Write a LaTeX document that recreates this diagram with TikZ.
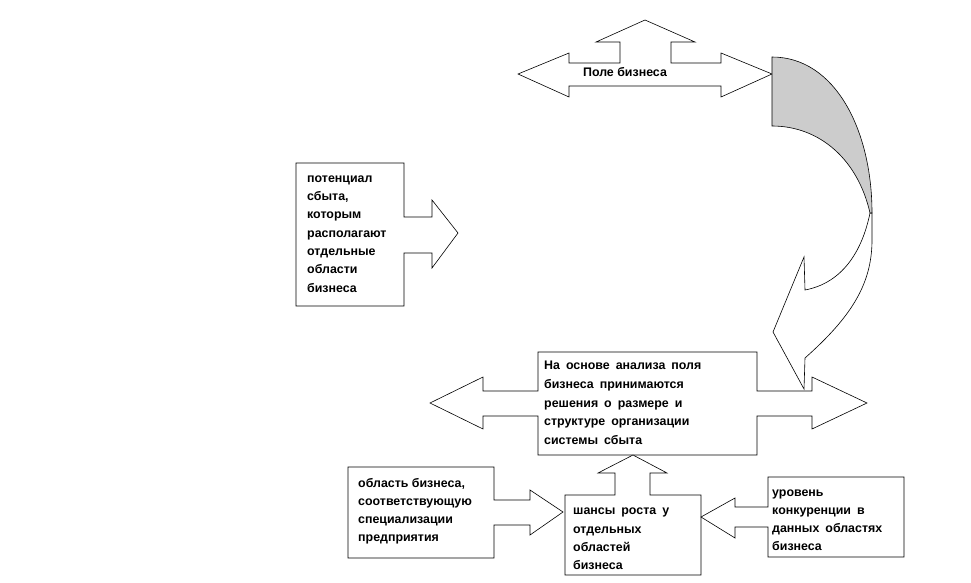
\documentclass[tikz,border=0pt]{standalone}
\usepackage{fontspec}
\setmainfont{Liberation Sans}
\newcommand{\boxfnt}[1]{\bfseries\fontsize{12.4}{#1}\selectfont\spaceskip=6pt plus 2pt\relax}
\begin{document}
\begin{tikzpicture}[x=1pt,y=-1pt,
  shp/.style={draw=black, line width=0.6pt, fill=white, line join=miter},
  lbl/.style={font=\boxfnt{18.3pt}, align=left, inner sep=0pt, anchor=west}]
\useasboundingbox (0,0) rectangle (971,583);

% top up-left-right arrow
\draw[shp] (518,74) -- (569,53) -- (569,63) -- (620,63) -- (620,42) -- (596,42) -- (645,20)
  -- (695,42) -- (671,42) -- (671,63) -- (721,63) -- (721,53) -- (772,74) -- (721,97)
  -- (721,86) -- (569,86) -- (569,97) -- cycle;
\node[lbl, anchor=center, font=\bfseries\fontsize{12.4}{15}\selectfont] (pole) at (625,72) {Поле бизнеса};

% curved arrow: white band with head
\draw[shp] (870,213) .. controls (862,252) and (842,283) .. (805,290)
  -- (804,257) -- (773,332) -- (804,389) -- (805,358)
  .. controls (850,318) and (872,285) .. (872,240) -- (872,213) -- cycle;
% curved arrow: grey back
\draw[shp, fill=black!20] (772,57) .. controls (835,57) and (872,130) .. (872,213)
  -- (870,213) .. controls (858,160) and (820,126) .. (772,126) -- cycle;

% left box with right arrow
\draw[shp] (296,163) -- (404,163) -- (404,217) -- (432,217) -- (432,200) -- (458,233)
  -- (432,268) -- (432,253) -- (404,253) -- (404,306) -- (296,306) -- cycle;
\node[lbl] (pot) at (307,234) {потенциал\\сбыта,\\которым\\располагают\\отдельные\\области\\бизнеса};

% centre box with left-right arrow
\draw[shp] (538,352) -- (757,352) -- (757,391) -- (812,391) -- (812,377) -- (867,403)
  -- (812,429) -- (812,416) -- (757,416) -- (757,455) -- (538,455) -- (538,416)
  -- (483,416) -- (483,429) -- (430,403) -- (483,377) -- (483,391) -- (538,391) -- cycle;
\node[lbl, font=\boxfnt{18.75pt}] (resh) at (544,403) {На основе анализа поля\\бизнеса принимаются\\решения о размере и\\структуре организации\\системы сбыта};

% chances box with up arrow
\draw[shp] (565,495) -- (615,495) -- (615,473) -- (598,473) -- (633,455) -- (667,473)
  -- (650,473) -- (650,495) -- (701,495) -- (701,575) -- (565,575) -- cycle;
\node[lbl] (shans) at (573,539) {шансы роста у\\отдельных\\областей\\бизнеса};

% left bottom box with right arrow
\draw[shp] (348,467) -- (494,467) -- (494,500) -- (530,500) -- (530,490) -- (563,512)
  -- (530,535) -- (530,525) -- (494,525) -- (494,558) -- (348,558) -- cycle;
\node[lbl, font=\bfseries\fontsize{12.4}{18pt}\selectfont] (obl) at (358,511) {область бизнеса,\\соответствующую\\специализации\\предприятия};

% right bottom box with left arrow
\draw[shp] (768,477) -- (904,477) -- (904,557) -- (768,557) -- (768,527) -- (735,527)
  -- (735,538) -- (701,517) -- (735,498) -- (735,507) -- (768,507) -- cycle;
\node[lbl, font=\boxfnt{18pt}] (urov) at (772,520) {уровень\\конкуренции в\\данных областях\\бизнеса};
\end{tikzpicture}
\end{document}
